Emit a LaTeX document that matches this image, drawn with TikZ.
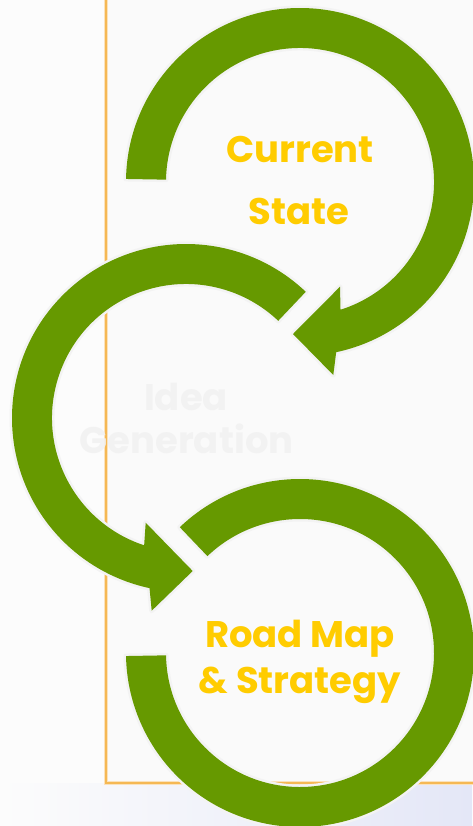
\documentclass[tikz,border=0pt]{standalone}
\usepackage{fontspec}
\setmainfont{Poppins}
\usetikzlibrary{calc}
\definecolor{arrowgreen}{HTML}{669900}
\definecolor{ringedge}{HTML}{F3F3F3}
\definecolor{labelyellow}{HTML}{FFCC00}
\definecolor{ghosttext}{HTML}{F1F1F1}
\definecolor{bgwhite}{HTML}{FCFCFC}
\definecolor{framefill}{HTML}{FAFAFA}
\definecolor{frameline}{HTML}{F5B854}
\definecolor{frameglow}{HTML}{FBE2BC}
\definecolor{lavender}{HTML}{E4E7F7}
\begin{document}
\begin{tikzpicture}[x=1pt,y=-1pt,
  ring/.style={fill=arrowgreen, preaction={draw=ringedge, line width=5pt, line join=round}},
  lbl/.style={anchor=base, text=labelyellow, inner sep=0pt,
    font=\fontsize{37}{40}\selectfont\bfseries},
  ghost/.style={anchor=base, text=ghosttext, inner sep=0pt, text opacity=0.85,
    font=\fontsize{37}{40}\selectfont\bfseries}]
\useasboundingbox (0,0) rectangle (472,826);
% background
\fill[bgwhite] (0,0) rectangle (472,826);
\shade[left color=bgwhite, right color=lavender] (0,783) rectangle (472,826);
% frame
\filldraw[fill=framefill, draw=frameglow, line width=4pt] (106,-20) rectangle (492,783);
\draw[frameline, line width=1.6pt] (106,-20) rectangle (492,783);
% centres
\coordinate (c1) at (300,182);
\coordinate (c2) at (186,418);
\coordinate (c3) at (300,653);
% top arrow (Current State)
\path[ring] ($(c1)+(181:174)$) arc[start angle=181, end angle=438, radius=174]
  -- (333.3,375) -- (293,334) -- (340,286.7)
  -- ($(c1)+(432.4:134)$) arc[start angle=432.4, end angle=181, radius=134] -- cycle;
% middle arrow (Idea Generation)
\path[ring] ($(c2)+(-46.5:174)$) arc[start angle=-46.5, end angle=-257.9, radius=174]
  -- (151.7,610.7) -- (192.7,571) -- (145.7,522.7)
  -- ($(c2)+(-251.8:134)$) arc[start angle=-251.8, end angle=-46.5, radius=134] -- cycle;
% bottom ring (Road Map & Strategy)
\path[ring] ($(c3)+(226.3:174)$) arc[start angle=226.3, end angle=539, radius=174]
  -- ($(c3)+(539:134)$) arc[start angle=539, end angle=226.3, radius=134] -- cycle;
% labels
\node[lbl] (cur) at (300,163) {Current};
\node[lbl] (sta) at (299,225) {State};
\node[ghost] (ide) at (186,410) {Idea};
\node[ghost] (gen) at (186.5,453) {Generation};
\node[lbl] (road) at (300,647) {Road Map};
\node[lbl] (strat) at (300,693) {\& Strategy};
\end{tikzpicture}
\end{document}
